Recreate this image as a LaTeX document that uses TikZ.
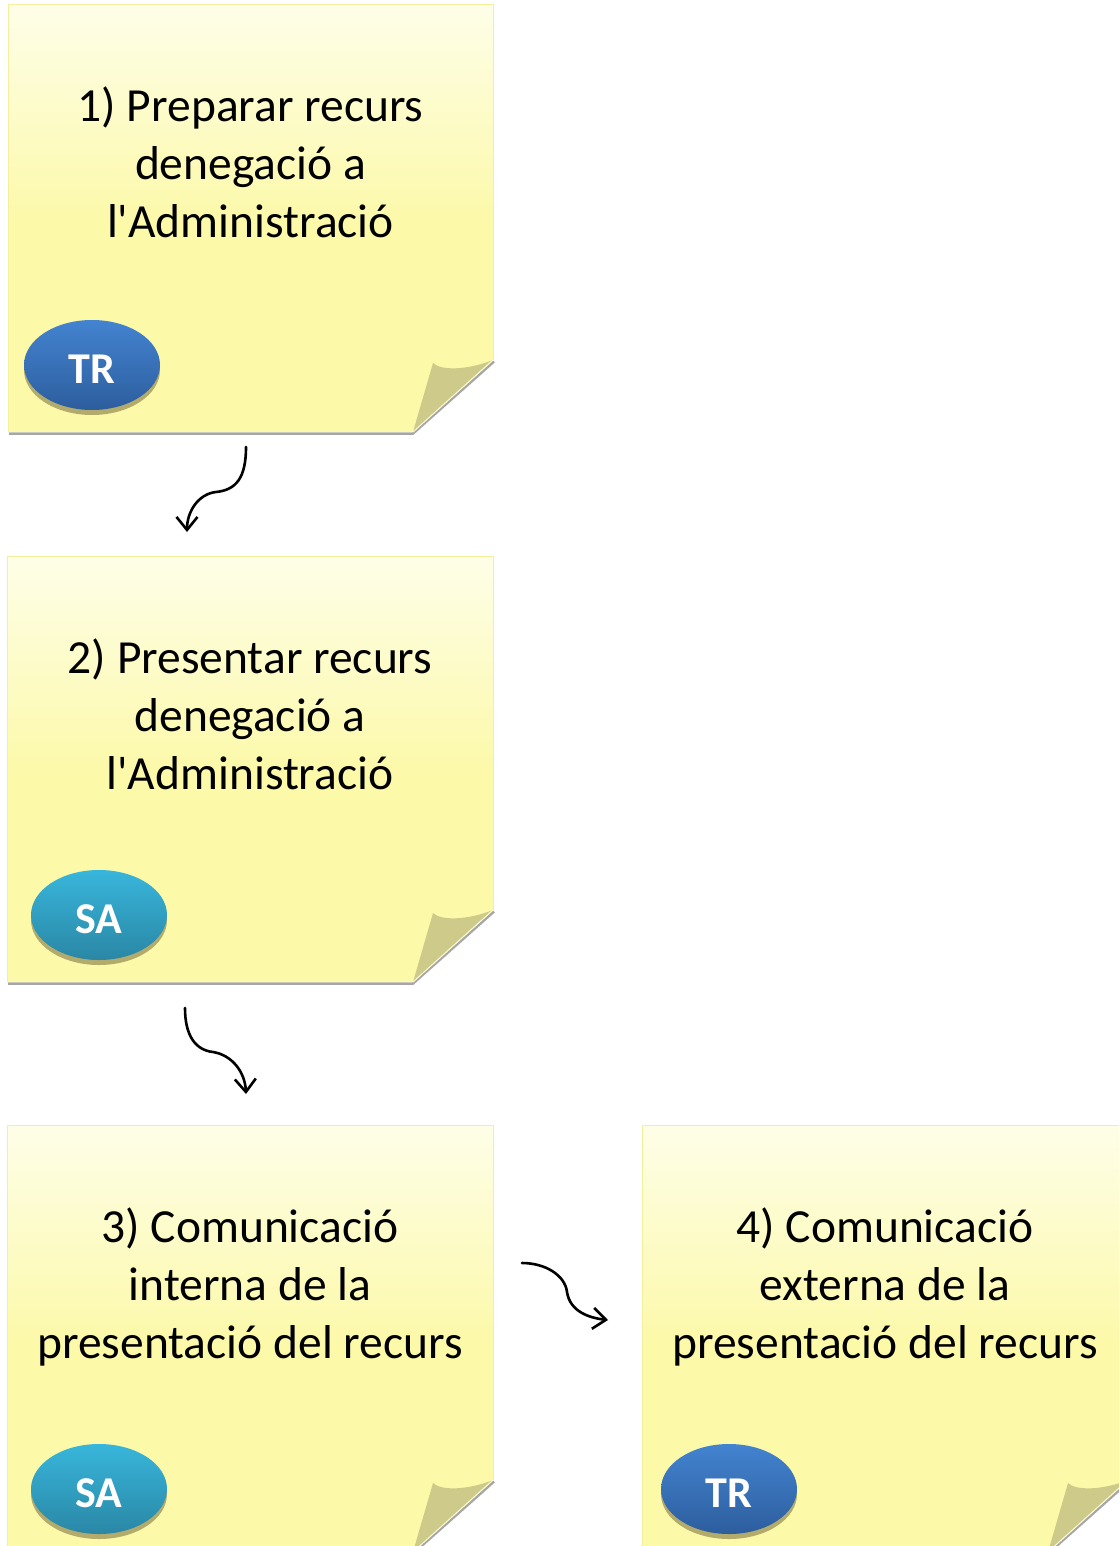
\documentclass[tikz,border=0pt]{standalone}
\usepackage{fontspec}
\setmainfont{Carlito}[Ligatures=TeXOff]
\usetikzlibrary{arrows.meta}
\definecolor{noteY}{HTML}{FCF9A8}
\definecolor{noteL}{HTML}{FEFEE8}
\definecolor{foldC}{HTML}{CECB8A}
\definecolor{shadowG}{HTML}{A6A6A6}
\definecolor{noteEdge}{HTML}{F4EE9E}
\definecolor{trTop}{HTML}{4383D0}
\definecolor{trBot}{HTML}{2D5E9E}
\definecolor{saTop}{HTML}{38B6DB}
\definecolor{saBot}{HTML}{2A87A5}
\definecolor{ellShadow}{HTML}{B3AB6B}
\pgfdeclareverticalshading{notesh}{100bp}{color(0bp)=(noteY); color(25bp)=(noteY); color(49bp)=(noteY); color(75bp)=(noteL); color(100bp)=(noteL)}
\newcommand\stickynote[4]{%
  % #1=L #2=T #3=R #4=B
  \draw[shadowG, line width=2.5pt] (#1+1,#4+1.5) -- (#3-80,#4+1.5) -- (#3+1,#4-72+1.5);
  \shade[shading=notesh] (#1,#2) -- (#3,#2) -- (#3,#4-72) -- (#3-80,#4) -- (#1,#4) -- cycle;
  \draw[noteEdge, line width=1pt] (#1,#4) -- (#1,#2) -- (#3,#2) -- (#3,#4-72);
  \fill[foldC] (#3-80,#4) -- (#3-60,#4-69) .. controls (#3-52,#4-61) and (#3-25,#4-62) .. (#3,#4-72) -- cycle;
  \draw[white!50!noteY, line width=1pt] (#3-80,#4) -- (#3,#4-72);
}
\tikzset{
  notetext/.style={anchor=base, align=center, inner sep=0pt, font=\fontsize{47.5}{58}\selectfont},
  badge/.style={inner sep=0pt, text=white, font=\fontsize{44}{44}\selectfont\bfseries},
  flowarrow/.style={line width=2.6pt, -{Straight Barb[length=13pt,width=21pt]}, line cap=round, line join=round},
}
\newcommand\badgeshape[4]{%
  % #1=cx #2=cy #3=top colour #4=bottom colour
  \fill[ellShadow] (#1,#2+5) ellipse [x radius=68pt, y radius=45pt];
  \shade[top color=#3, bottom color=#4] (#1,#2) ellipse [x radius=68pt, y radius=45pt];
}
\begin{document}
\begin{tikzpicture}[x=1pt, y=-1pt]
\useasboundingbox (0,0) rectangle (1119,1546);
\fill[white] (0,0) rectangle (1119,1546);
\clip (0,0) rectangle (1119,1546);

\stickynote{8}{5}{493}{432}
\stickynote{7}{556}{493}{982}
\stickynote{7}{1125}{493}{1552}
\stickynote{642}{1125}{1128}{1552}

\node[notetext] (t1) at (250.5,238) {1) Preparar recurs\\denegació a\\l'Administració};
\node[notetext] (t2) at (250,789) {2) Presentar recurs\\denegació a\\l'Administració};
\node[notetext] (t3) at (250,1358) {3) Comunicació\\interna de la\\presentació del recurs};
\node[notetext] (t4) at (885,1358) {4) Comunicació\\externa de la\\presentació del recurs};

\badgeshape{92}{365}{trTop}{trBot}
\node[badge] (b1) at (92,369) {TR};
\badgeshape{99}{915}{saTop}{saBot}
\node[badge] (b2) at (99,919) {SA};
\badgeshape{99}{1489}{saTop}{saBot}
\node[badge] (b3) at (99,1493) {SA};
\badgeshape{729}{1489}{trTop}{trBot}
\node[badge] (b4) at (729,1493) {TR};

\coordinate (a1s) at (246,447);
\coordinate (a1m) at (216,492);
\coordinate (a1e) at (187,532);
\draw[flowarrow] (a1s) .. controls (246,478) and (236,490) .. (a1m) .. controls (198,494) and (187,512) .. (a1e);

\coordinate (a2s) at (185,1008);
\coordinate (a2m) at (213,1052);
\coordinate (a2e) at (246,1094);
\draw[flowarrow] (a2s) .. controls (185,1035) and (195,1050) .. (a2m) .. controls (232,1055) and (245,1072) .. (a2e);

\coordinate (a3s) at (522,1263);
\coordinate (a3m) at (567,1292);
\coordinate (a3e) at (608,1320);
\draw[flowarrow] (a3s) .. controls (545,1263) and (565,1275) .. (a3m) .. controls (570,1312) and (590,1318) .. (a3e);
\end{tikzpicture}
\end{document}
